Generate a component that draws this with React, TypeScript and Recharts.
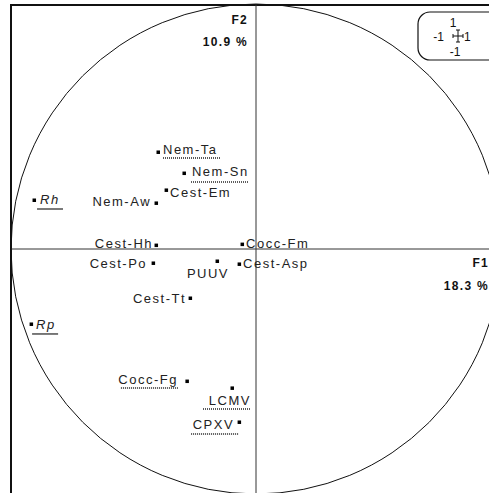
import {
  ScatterChart,
  Scatter,
  XAxis,
  YAxis,
  ReferenceLine,
  ReferenceDot,
  ReferenceArea,
  Customized,
} from "recharts";

// variable names and their coordinates on F1 / F2
const names = [
  "Nem-Ta", "Nem-Sn", "Cest-Em", "Nem-Aw", "Rh", "Cest-Hh", "Cocc-Fm", "Cest-Po",
  "PUUV", "Cest-Asp", "Cest-Tt", "Rp", "Cocc-Fg", "LCMV", "CPXV",
];
const f1 = [
  -0.4, -0.294, -0.367, -0.408, -0.906, -0.408, -0.057, -0.42,
  -0.159, -0.069, -0.269, -0.918, -0.282, -0.098, -0.069,
];
const f2 = [
  0.396, 0.31, 0.241, 0.188, 0.2, 0.016, 0.02, -0.057,
  -0.049, -0.061, -0.2, -0.306, -0.539, -0.567, -0.706,
];
const f1Label = ["F1", "18.3 %"];
const f2Label = ["F2", "10.9 %"];

type Place = {
  dx: number;
  dy: number;
  anchor: "start" | "end";
  italic?: boolean;
  ul?: [number, number, number];
  dotted?: boolean;
};

// label placement around each marker
const place: Record<string, Place> = {
  "Nem-Ta": { dx: 5, dy: 2, anchor: "start", ul: [5, 62, 6], dotted: true },
  "Nem-Sn": { dx: 8, dy: 3, anchor: "start", ul: [7, 64, 9], dotted: true },
  "Cest-Em": { dx: 4, dy: 7, anchor: "start" },
  "Nem-Aw": { dx: -5, dy: 3, anchor: "end" },
  Rh: { dx: 6, dy: 4, anchor: "start", italic: true, ul: [3, 29, 9] },
  "Cest-Hh": { dx: -3, dy: 3, anchor: "end" },
  "Cocc-Fm": { dx: 4, dy: 4, anchor: "start" },
  "Cest-Po": { dx: -6, dy: 5, anchor: "end" },
  PUUV: { dx: 12, dy: 17, anchor: "end" },
  "Cest-Asp": { dx: 4, dy: 4, anchor: "start" },
  "Cest-Tt": { dx: -4, dy: 5, anchor: "end" },
  Rp: { dx: 5, dy: 5, anchor: "start", italic: true, ul: [1, 27, 10] },
  "Cocc-Fg": { dx: -9, dy: 3, anchor: "end", ul: [-66, -9, 7], dotted: true },
  LCMV: { dx: 19, dy: 17, anchor: "end", ul: [-29, 19, 21], dotted: true },
  CPXV: { dx: -5, dy: 7, anchor: "end", ul: [-48, -1, 12], dotted: true },
};

const data = names.map((name, i) => ({ name, x: f1[i], y: f2[i] }));

const FONT = "'Liberation Sans', Arial, sans-serif";

function VarMark(props: any) {
  const { cx, cy, payload } = props;
  const p = place[payload.name];
  return (
    <g>
      <rect x={cx - 1.5} y={cy - 1.5} width={3.5} height={3.5} fill="#000" />
      <text
        x={cx + p.dx}
        y={cy + p.dy}
        textAnchor={p.anchor}
        fontFamily={FONT}
        fontSize={13}
        fontStyle={p.italic ? "italic" : "normal"}
        letterSpacing={1.5}
        fill="#222"
      >
        {payload.name}
      </text>
      {p.ul && (
        <line
          x1={cx + p.ul[0]}
          x2={cx + p.ul[1]}
          y1={cy + p.ul[2]}
          y2={cy + p.ul[2]}
          stroke="#222"
          strokeWidth={p.dotted ? 1.5 : 1.2}
          strokeDasharray={p.dotted ? "1 1" : undefined}
        />
      )}
    </g>
  );
}

function Decor() {
  return (
    <g fontFamily={FONT} fill="#111">
      <text x={248} y={24} textAnchor="end" fontSize={12} fontWeight="bold" letterSpacing={1.3}>
        {f2Label[0]}
      </text>
      <text x={248} y={46} textAnchor="end" fontSize={12} fontWeight="bold" letterSpacing={1.3}>
        {f2Label[1]}
      </text>
      <text x={489} y={267} textAnchor="end" fontSize={12} fontWeight="bold" letterSpacing={1.3}>
        {f1Label[0]}
      </text>
      <text x={489} y={290} textAnchor="end" fontSize={12} fontWeight="bold" letterSpacing={1.3}>
        {f1Label[1]}
      </text>
      <rect x={418} y={12} width={100} height={48} rx={12} fill="#fff" stroke="#111" strokeWidth={1.2} />
      <text x={453} y={27} textAnchor="middle" fontSize={12}>1</text>
      <text x={444} y={41} textAnchor="end" fontSize={12}>-1</text>
      <text x={464} y={41} textAnchor="start" fontSize={12}>1</text>
      <text x={455} y={56} textAnchor="middle" fontSize={12}>-1</text>
      <g stroke="#111" strokeWidth={1}>
        <line x1={458} x2={458} y1={30} y2={42} />
        <line x1={453} x2={463} y1={36} y2={36} />
        <line x1={456} x2={460} y1={30} y2={30} />
        <line x1={456} x2={460} y1={42} y2={42} />
        <line x1={453} x2={453} y1={34} y2={38} />
        <line x1={463} x2={463} y1={34} y2={38} />
      </g>
    </g>
  );
}

export default function App() {
  return (
    <div
      style={{
        position: "fixed",
        top: 0,
        left: 0,
        width: 489,
        height: 493,
        overflow: "hidden",
        background: "#fff",
      }}
    >
      <ScatterChart
        width={510}
        height={500}
        margin={{ top: 4, left: 11, right: 9, bottom: 6 }}
      >
        <XAxis type="number" dataKey="x" domain={[-1, 1]} hide />
        <YAxis type="number" dataKey="y" domain={[-1, 1]} hide />
        <ReferenceArea
          x1={-1}
          x2={1}
          y1={-1}
          y2={0.996}
          fill="none"
          stroke="#111"
          strokeWidth={2}
          ifOverflow="visible"
        />
        <ReferenceLine x={0} stroke="#333" strokeWidth={1} />
        <ReferenceLine y={0} stroke="#333" strokeWidth={1} />
        <ReferenceDot
          x={0}
          y={0}
          r={245}
          fill="none"
          stroke="#111"
          strokeWidth={1}
          ifOverflow="visible"
        />
        <Scatter data={data} shape={VarMark} isAnimationActive={false} />
        <Customized component={Decor} />
      </ScatterChart>
    </div>
  );
}
